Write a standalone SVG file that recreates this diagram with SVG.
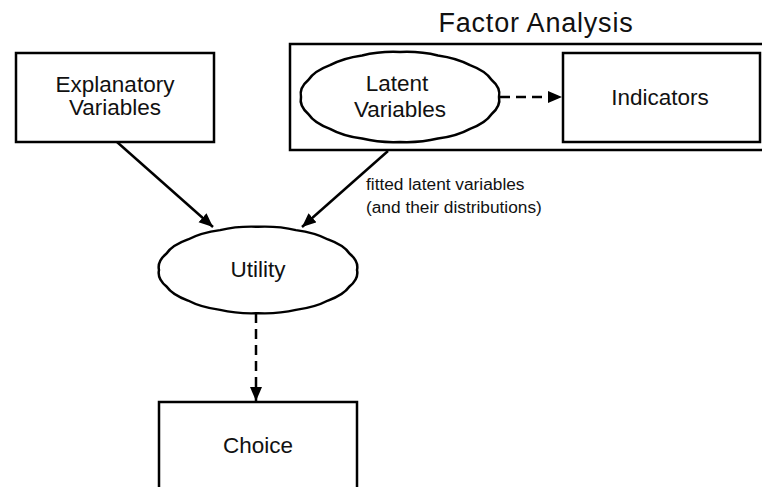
<svg xmlns="http://www.w3.org/2000/svg" width="762" height="487" viewBox="0 0 762 487">
<style>
.box{fill:#fff;stroke:#000;stroke-width:2.5}
.cloud{fill:#fff;stroke:#000;stroke-width:2.5;vector-effect:non-scaling-stroke}
.t{font-family:"Liberation Sans",Arial,sans-serif;font-size:22.5px;fill:#111;text-anchor:middle}
.title{font-family:"Liberation Sans",Arial,sans-serif;font-size:27px;fill:#111;text-anchor:middle}
.ann{font-family:"Liberation Sans",Arial,sans-serif;font-size:17.3px;fill:#111}
.edge{fill:none;stroke:#000;stroke-width:2.5}
.dash{stroke-dasharray:10 6}
</style>
<defs>
<path id="cloudShape" d="M99,0 Q100.98,9.13 91.47,17.22 Q85.61,26 70,31.82 Q57.2,38.91 37.89,41.58 Q20.09,45.9 0,45 Q-20.09,45.9 -37.89,41.58 Q-57.2,38.91 -70,31.82 Q-85.61,26 -91.47,17.22 Q-100.98,9.13 -99,0 Q-100.98,-9.13 -91.47,-17.22 Q-85.61,-26 -70,-31.82 Q-57.2,-38.91 -37.89,-41.58 Q-20.09,-45.9 0,-45 Q20.09,-45.9 37.89,-41.58 Q57.2,-38.91 70,-31.82 Q85.61,-26 91.47,-17.22 Q100.98,-9.13 99,0 Z"/>
<marker id="arr" markerUnits="userSpaceOnUse" markerWidth="16" markerHeight="14" refX="14" refY="6" orient="auto">
<path d="M0,0 L14,6 L0,12 Z" fill="#000"/>
</marker>
</defs>

<g id="factor-analysis">
<rect class="box" x="290" y="44" width="490" height="106"/>
<text class="title" x="536" y="32" letter-spacing="0.8">Factor Analysis</text>
</g>

<g id="explanatory">
<rect class="box" x="16" y="53" width="198" height="89"/>
<text class="t" x="115" y="92">Explanatory</text>
<text class="t" x="115" y="115">Variables</text>
</g>

<g id="latent">
<use href="#cloudShape" class="cloud" transform="translate(400,97)"/>
<text class="t" x="397" y="91">Latent</text>
<text class="t" x="400" y="117">Variables</text>
</g>

<g id="indicators">
<rect class="box" x="563" y="53" width="197" height="89"/>
<text class="t" x="660" y="105">Indicators</text>
</g>

<g id="utility">
<use href="#cloudShape" class="cloud" transform="translate(258,270) scale(1,0.96)"/>
<text class="t" x="258" y="277">Utility</text>
</g>

<g id="choice">
<rect class="box" x="159" y="402" width="198" height="100"/>
<text class="t" x="258" y="453">Choice</text>
</g>

<g id="connectors">
<line class="edge" x1="117" y1="142" x2="213" y2="227" marker-end="url(#arr)"/>
<line class="edge" x1="388" y1="151" x2="302" y2="227" marker-end="url(#arr)"/>
<line class="edge dash" x1="500" y1="97" x2="562" y2="97" marker-end="url(#arr)"/>
<line class="edge dash" x1="256" y1="313" x2="256" y2="401" marker-end="url(#arr)"/>
<text class="ann" x="366" y="190">fitted latent variables</text>
<text class="ann" x="366" y="213">(and their distributions)</text>
</g>
</svg>
